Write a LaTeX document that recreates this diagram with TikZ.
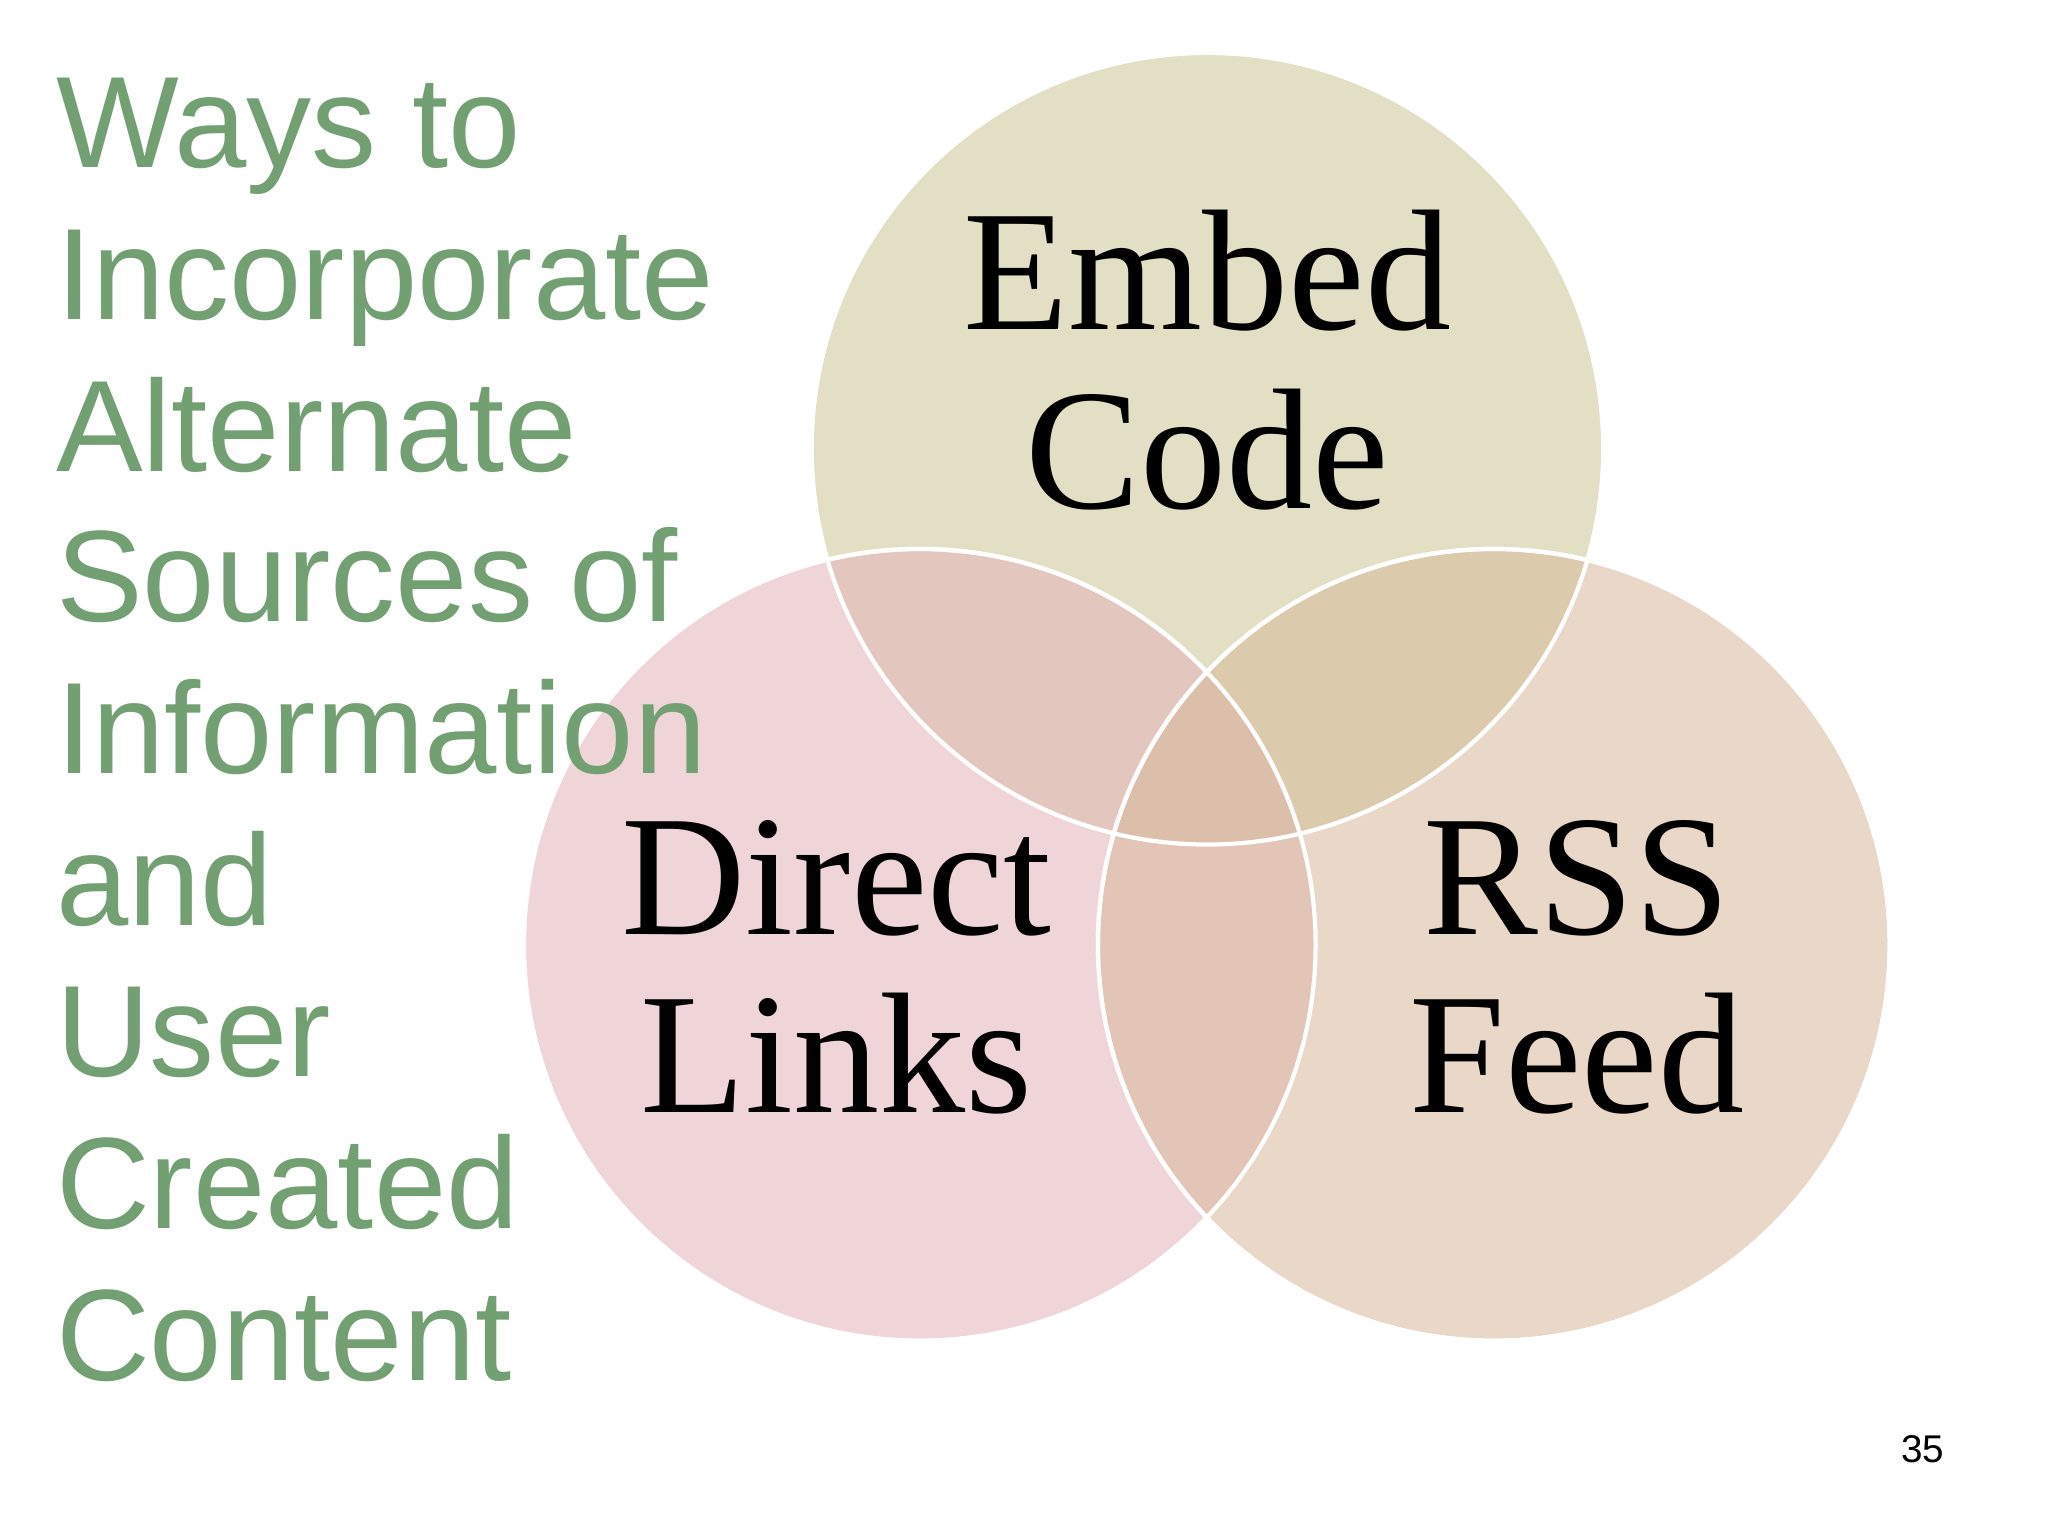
\documentclass[tikz,border=0pt]{standalone}
\usepackage{fontspec}
\setmainfont{Liberation Serif}
\newfontfamily\sansf{Liberation Sans}
\begin{document}
\begin{tikzpicture}[x=0.0132cm,y=-0.0132cm,
  circ/.style={draw=white,line width=1.2pt,fill opacity=0.55},
  ttl/.style={anchor=base west,inner sep=0,text=titlegreen,font=\sansf\fontsize{37}{37}\selectfont},
  lbl/.style={anchor=base,inner sep=0,font=\fontsize{49}{49}\selectfont}]
\definecolor{titlegreen}{RGB}{115,160,115}
\definecolor{ctop}{RGB}{205,198,150}
\definecolor{cleft}{RGB}{228,180,185}
\definecolor{cright}{RGB}{215,185,155}
\useasboundingbox (0,0) rectangle (1552,1164);
\fill[white] (0,0) rectangle (1552,1164);
\path[circ,fill=ctop] (915,340) circle (300);
\path[circ,fill=cleft] (697,716) circle (300);
\path[circ,fill=cright] (1132,716) circle (300);
\draw[white,line width=1.2pt] (915,340) circle (300) (697,716) circle (300) (1132,716) circle (300);
\node[ttl] (t1) at (42,127) {Ways to};
\node[ttl] (t2) at (42,242) {Incorporate};
\node[ttl] (t3) at (42,357) {Alternate};
\node[ttl] (t4) at (42,471) {Sources of};
\node[ttl] (t5) at (42,586) {Information};
\node[ttl] (t6) at (42,701) {and};
\node[ttl] (t7) at (42,816) {User};
\node[ttl] (t8) at (42,931) {Created};
\node[ttl] (t9) at (42,1046) {Content};
\node[lbl] (e1) at (915,250) {Embed};
\node[lbl] (e2) at (915,385) {Code};
\node[lbl] (d1) at (634,708) {Direct};
\node[lbl] (d2) at (634,843) {Links};
\node[lbl] (r1) at (1195,708) {RSS};
\node[lbl] (r2) at (1195,843) {Feed};
\node[anchor=base,inner sep=0,font=\sansf\fontsize{11}{11}\selectfont] (pg) at (1457,1108) {35};
\end{tikzpicture}
\end{document}
